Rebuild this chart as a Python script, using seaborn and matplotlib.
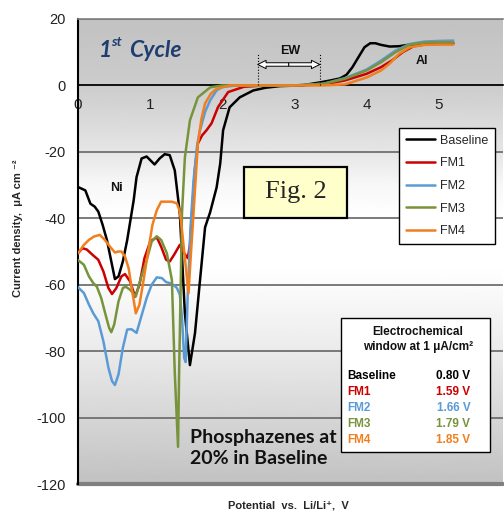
import numpy as np
import pandas as pd
import matplotlib
matplotlib.use("Agg")
import matplotlib.pyplot as plt
import seaborn as sns
from matplotlib.patches import Rectangle, FancyArrowPatch

# ---------------- data ----------------
series = ["Baseline", "FM1", "FM2", "FM3", "FM4"]
colors = ["#000000", "#cc0000", "#5b9bd5", "#77933c", "#f07f1e"]

base_x = [0, 0.1, 0.17, 0.23, 0.28, 0.34, 0.4, 0.46, 0.51, 0.56, 0.62, 0.68, 0.77, 0.81, 0.88, 0.95, 1.0,
          1.06, 1.13, 1.2, 1.27, 1.34, 1.41, 1.48, 1.55, 1.62, 1.69, 1.76, 1.83, 1.92, 1.97, 2.01, 2.1,
          2.24, 2.43, 2.6, 2.8, 3.1, 3.35, 3.5, 3.63, 3.72, 3.8, 3.9, 3.97, 4.05, 4.12, 4.2, 4.32, 4.45,
          4.6, 4.8, 5.0, 5.2]
base_y = [-30.6, -31.6, -35.6, -36.5, -38, -42, -46.6, -53, -58.3, -57.5, -53, -46.6, -34.6, -27.6, -22,
          -21.4, -22.5, -23.8, -22, -20.7, -21, -25.6, -38.5, -68.6, -84.2, -74.6, -58.6, -42.7, -38.2,
          -30.7, -23.5, -13.5, -6.6, -3.6, -1.5, -0.7, -0.2, 0, 0.9, 1.5, 2.1, 3.2, 5.4, 9, 11.5, 12.7,
          12.7, 12.2, 11.7, 11.8, 12.3, 12.6, 12.7, 12.8]

fm1_x = [0, 0.06, 0.12, 0.2, 0.28, 0.35, 0.42, 0.47, 0.53, 0.6, 0.65, 0.72, 0.79, 0.85, 0.92, 1.0, 1.09,
         1.15, 1.22, 1.27, 1.33, 1.41, 1.47, 1.52, 1.55, 1.58, 1.62, 1.66, 1.72, 1.78, 1.85, 1.94, 2.08,
         2.3, 2.6, 3.0, 3.4, 3.7, 4.0, 4.2, 4.35, 4.5, 4.65, 4.8, 5.0, 5.2]
fm1_y = [-50.5, -49, -49.4, -51, -52.5, -56, -61, -62.8, -61, -57.5, -56.8, -59, -63.6, -60, -52, -47,
         -45.7, -48.5, -52.5, -53, -51, -48, -50.5, -52, -48, -38, -25, -17.5, -15, -13.5, -11.4, -6.5,
         -2, -0.4, 0, 0, 0.3, 1.5, 3.5, 5.5, 7.5, 10, 11.8, 12.3, 12.5, 12.5]

fm2_x = [0, 0.08, 0.15, 0.21, 0.28, 0.35, 0.42, 0.47, 0.51, 0.56, 0.62, 0.68, 0.74, 0.81, 0.87, 0.95,
         1.02, 1.09, 1.16, 1.22, 1.3, 1.37, 1.41, 1.44, 1.47, 1.49, 1.52, 1.56, 1.6, 1.65, 1.69, 1.76,
         1.83, 1.92, 2.0, 2.2, 2.6, 3.0, 3.4, 3.7, 4.0, 4.2, 4.4, 4.6, 4.8, 5.0, 5.2]
fm2_y = [-60.8, -62.5, -66, -68.6, -71, -77, -85, -89, -90.2, -87, -79, -73.5, -73.4, -74.5, -70, -64,
         -60, -57.8, -58, -59.2, -59.7, -61, -63, -70, -82, -83.3, -62.6, -42, -28.6, -18, -13.5, -8,
         -4.5, -1.5, -0.5, 0, 0, 0, 0.5, 2.2, 4.8, 7.5, 10.5, 12.5, 13.2, 13.4, 13.5]

fm3_x = [0, 0.08, 0.15, 0.21, 0.26, 0.32, 0.38, 0.43, 0.46, 0.5, 0.56, 0.62, 0.66, 0.72, 0.8, 0.87, 0.95,
         1.02, 1.09, 1.15, 1.23, 1.3, 1.34, 1.385, 1.40, 1.44, 1.48, 1.55, 1.66, 1.83, 2.0, 2.6, 3.0, 3.4,
         3.7, 4.0, 4.2, 4.4, 4.6, 4.8, 5.0, 5.2]
fm3_y = [-52.6, -54, -57.5, -59.5, -60.6, -64, -69, -73, -74.3, -72, -65, -61, -60.6, -61.5, -63.5, -58,
         -52.6, -47, -45.4, -46.5, -50.5, -58.6, -86.6, -108.8, -86.6, -38.5, -21.7, -10.5, -3.6, -0.6, 0,
         0, 0, 0.5, 2, 4.5, 7, 10, 12.3, 12.9, 13, 13]

fm4_x = [0, 0.08, 0.15, 0.22, 0.3, 0.37, 0.44, 0.51, 0.56, 0.6, 0.65, 0.7, 0.75, 0.8, 0.85, 0.9, 0.97, 1.03,
         1.09, 1.15, 1.23, 1.3, 1.37, 1.41, 1.44, 1.48, 1.53, 1.56, 1.6, 1.66, 1.71, 1.76, 1.84, 1.92, 2.1,
         2.5, 3.0, 3.4, 3.7, 4.0, 4.2, 4.32, 4.45, 4.6, 4.8, 5.0, 5.2]
fm4_y = [-50.5, -48, -46.5, -45.5, -45, -46.5, -48.5, -50.3, -50, -50, -51.5, -55, -62, -68.6, -66, -59.6,
         -50, -42, -37.6, -35, -35, -35, -35.5, -38, -43.6, -52, -62.6, -52, -38.5, -17.5, -10, -5.4,
         -2.5, -1, 0, 0, 0, 0, 0.3, 2.4, 4.5, 6.6, 9.5, 11.5, 12.2, 12.3, 12.3]

x_ticks = [0, 1, 2, 3, 4, 5]
y_ticks = [-120, -100, -80, -60, -40, -20, 0, 20]

ew_labels = ["Baseline", "FM1", "FM2", "FM3", "FM4"]
ew_values = ["0.80 V", "1.59 V", "1.66 V", "1.79 V", "1.85 V"]

# ---------------- frame ----------------
xs = [base_x, fm1_x, fm2_x, fm3_x, fm4_x]
ys = [base_y, fm1_y, fm2_y, fm3_y, fm4_y]
df = pd.concat([pd.DataFrame({"x": x, "y": y, "series": s}) for s, x, y in zip(series, xs, ys)],
               ignore_index=True)

sns.set_theme(style="white")
plt.rcParams["font.family"] = ["Liberation Sans", "DejaVu Sans"]

fig = plt.figure(figsize=(5.04, 5.13), dpi=100)
ax = fig.add_axes([0.155, 0.0565, 0.843, 0.9065])
XMAX = 5.89

# background gradient
gy = np.linspace(-120, 20, 300)
gv = np.interp(gy, [-120, -100, -80, -65, -55, -40, -30, -20, 0, 20],
               [0.76, 0.84, 0.92, 0.97, 1.0, 1.0, 0.97, 0.90, 0.80, 0.76])
ax.imshow(np.repeat(gv[:, None], 2, axis=1), extent=[0, XMAX, -120, 20], origin="lower",
          aspect="auto", cmap="gray", vmin=0, vmax=1, zorder=-10)

sns.lineplot(data=df, x="x", y="y", hue="series", hue_order=series,
             palette=dict(zip(series, colors)), estimator=None, sort=False,
             linewidth=1.8, ax=ax, zorder=3)
for ln in ax.get_lines():
    ln.set_solid_joinstyle("round")

ax.set_xlim(0, XMAX)
ax.set_ylim(-120, 20)
ax.set_xticks(x_ticks)
ax.set_yticks(y_ticks)
ax.set_xticklabels([str(t) for t in x_ticks], fontsize=10.5)
ax.set_yticklabels([str(t) for t in y_ticks], fontsize=10.5)
ax.set_xlabel("")
ax.set_ylabel("")

ax.spines["bottom"].set_position(("data", 0))
ax.spines["bottom"].set_color("black")
ax.spines["bottom"].set_linewidth(1.2)
ax.spines["left"].set_color("black")
ax.spines["left"].set_linewidth(1.5)
ax.spines["right"].set_visible(False)
ax.spines["top"].set_color("#808080")
ax.spines["top"].set_linewidth(1.2)
ax.tick_params(axis="x", direction="out", length=3, width=1, color="black", pad=6, labelcolor="#222222")
ax.tick_params(axis="y", direction="out", length=6, width=1, color="black", pad=3, labelcolor="#222222")
ax.yaxis.grid(True, color="#707070", linewidth=1.3)
ax.xaxis.grid(False)
ax.set_axisbelow(True)
ax.axhline(-120, color="#808080", lw=3, clip_on=False, zorder=2)

# legend
handles, labels = ax.get_legend_handles_labels()
leg = ax.legend(handles, labels, loc="upper left", bbox_to_anchor=(0.755, 0.766),
                bbox_transform=ax.transAxes, borderaxespad=0, frameon=True, fancybox=False,
                fontsize=9, labelspacing=0.85, handlelength=2.3, handletextpad=0.4,
                borderpad=0.55)
leg.get_frame().set_edgecolor("black")
leg.get_frame().set_linewidth(1.0)
leg.get_frame().set_facecolor("white")
leg.get_frame().set_alpha(1)
for line in leg.get_lines():
    line.set_linewidth(1.8)

# 1st Cycle
cyc_kw = dict(color="#1f3d6e", fontweight="bold", fontstyle="italic", family=["Lato", "DejaVu Sans"])
ax.text(0.29, 10.5, "1", fontsize=16.5, va="center", ha="left", **cyc_kw)
ax.text(0.455, 13.2, "st", fontsize=10, va="center", ha="left", **cyc_kw)
ax.text(0.70, 10.5, "Cycle", fontsize=16.5, va="center", ha="left", **cyc_kw)

# EW annotation
ax.plot([2.49, 2.49], [0, 9.5], ls=":", color="black", lw=0.8, zorder=4)
ax.plot([3.35, 3.35], [0, 9.5], ls=":", color="black", lw=0.8, zorder=4)
for end in (2.49, 3.35):
    ax.add_patch(FancyArrowPatch((2.92, 6.3), (end, 6.3),
                                 arrowstyle="simple,head_length=6,head_width=6,tail_width=2.5",
                                 fc="white", ec="black", lw=0.7, zorder=5, shrinkA=0, shrinkB=0))
ax.text(2.94, 10.5, "EW", fontsize=9, fontweight="bold", ha="center", va="center", color="#111111")
ax.text(4.76, 7.2, "Al", fontsize=9, fontweight="bold", ha="center", va="center", color="#111111")
ax.text(0.53, -31, "Ni", fontsize=9, fontweight="bold", ha="center", va="center", color="#111111")

# Fig. 2 box
ax.add_patch(Rectangle((0.391, 0.572), 0.242, 0.110, transform=ax.transAxes,
                       facecolor="#ffffcc", edgecolor="black", lw=1.6, zorder=6))
ax.text(0.512, 0.627, "Fig. 2", transform=ax.transAxes, fontsize=19, ha="center", va="center",
        family=["Liberation Serif", "DejaVu Serif"], zorder=7)

# Phosphazenes text
ax.text(1.55, -103.5, "Phosphazenes at\n20% in Baseline", fontsize=14, fontweight="bold",
        family=["Lato", "DejaVu Sans"], ha="left", va="top", linespacing=1.3, color="#111111", zorder=6)

# Electrochemical window box
ax.add_patch(Rectangle((0.619, 0.069), 0.351, 0.288, transform=ax.transAxes,
                       facecolor="white", edgecolor="black", lw=1.0, zorder=6))
ax.text(0.800, 0.340, "Electrochemical\nwindow at 1 μA/cm²", transform=ax.transAxes, fontsize=8.5,
        fontweight="bold", ha="center", va="top", linespacing=1.35, zorder=7, color="#111111")
row_y0 = 0.233
for i, (lab, val, col) in enumerate(zip(ew_labels, ew_values, colors)):
    yy = row_y0 - i * 0.0345
    ax.text(0.634, yy, lab, transform=ax.transAxes, fontsize=8.5, fontweight="bold", color=col,
            ha="left", va="center", zorder=7)
    ax.text(0.923, yy, val, transform=ax.transAxes, fontsize=8.5, fontweight="bold", color=col,
            ha="right", va="center", zorder=7)

# axis labels
fig.text(18 / 504, 1 - 228 / 513, "Current density,  μA cm ⁻²", rotation=90, fontsize=8,
         fontweight="bold", ha="center", va="center")
fig.text(288 / 504, 1 - 505 / 513, "Potential  vs.  Li/Li⁺,  V", fontsize=8, fontweight="bold",
         ha="center", va="center")

fig.savefig("out.png", dpi=100)
